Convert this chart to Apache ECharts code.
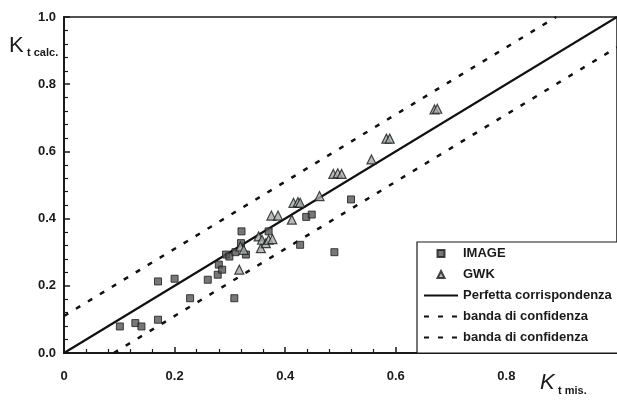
<!DOCTYPE html>
<html>
<head>
<meta charset="utf-8">
<script src="https://cdn.jsdelivr.net/npm/echarts@6/dist/echarts.min.js"></script>
<style>html,body{margin:0;padding:0;background:#fff;}#c{width:617px;height:404px;}</style>
</head>
<body>
<div id="c"></div>
<script>
// IMAGE series (squares): [Kt mis., Kt calc.]
const imageData = [
  [0.101,0.079],[0.129,0.089],[0.140,0.079],[0.170,0.099],[0.170,0.213],[0.200,0.221],
  [0.228,0.163],[0.260,0.218],[0.278,0.233],[0.280,0.263],[0.286,0.248],[0.293,0.293],
  [0.299,0.287],[0.308,0.163],[0.310,0.300],[0.320,0.327],[0.321,0.362],[0.329,0.293],
  [0.370,0.362],[0.427,0.322],[0.438,0.405],[0.448,0.412],[0.489,0.300],[0.519,0.457]
];
// GWK series (triangles)
const gwkData = [
  [0.317,0.248],[0.319,0.317],[0.325,0.307],[0.352,0.347],[0.356,0.312],[0.358,0.337],
  [0.365,0.327],[0.370,0.337],[0.377,0.339],[0.375,0.409],[0.387,0.409],[0.412,0.397],
  [0.415,0.447],[0.423,0.449],[0.427,0.447],[0.462,0.467],[0.487,0.533],[0.495,0.535],
  [0.502,0.533],[0.556,0.576],[0.583,0.638],[0.589,0.638],[0.670,0.725],[0.675,0.727]
];
const perfectLine = [[0,0],[1,1]];
const upperBand = [[0,0.11],[0.89,1.0]];
const lowerBand = [[0.09,0],[1.0,0.91]];
const seriesNames = ['IMAGE','GWK','Perfetta corrispondenza','banda di confidenza','banda di confidenza '];

const chart = echarts.init(document.getElementById('c'));
const font = 'Liberation Sans, Arial, sans-serif';
const squarePath = 'path://M0,0L10,0L10,10L0,10Z';
const trianglePath = 'path://M5,0L10,10L0,10Z';
const axisCommon = {
  min: 0, max: 1, interval: 0.2,
  axisLine: {show: true, lineStyle: {color: '#1a1a1a', width: 2}},
  axisTick: {show: true, inside: true, length: 6, lineStyle: {color: '#1a1a1a', width: 1.5}},
  minorTick: {show: true, splitNumber: 5, length: 4, lineStyle: {color: '#1a1a1a', width: 1.2}},
  splitLine: {show: false},
  axisLabel: {color: '#1a1a1a', fontFamily: font, fontSize: 13, fontWeight: 'bold'}
};
chart.setOption({
  animation: false,
  grid: {left: 64, right: -3, top: 17, bottom: 51, show: true, borderColor: '#1a1a1a', borderWidth: 1.5},
  xAxis: Object.assign({}, axisCommon, {
    type: 'value',
    axisLabel: Object.assign({}, axisCommon.axisLabel, {margin: 17, showMaxLabel: false,
      formatter: v => v === 0 ? '0' : v.toFixed(1)})
  }),
  yAxis: Object.assign({}, axisCommon, {
    type: 'value',
    axisLabel: Object.assign({}, axisCommon.axisLabel, {margin: 8, formatter: v => v.toFixed(1)})
  }),
  legend: {
    orient: 'vertical', left: 417, top: 242,
    padding: [5, 20, 9, 6],
    itemWidth: 34, itemHeight: 7, itemGap: 8,
    symbolKeepAspect: true,
    borderColor: '#1a1a1a', borderWidth: 1.2, backgroundColor: '#fff',
    textStyle: {fontFamily: font, fontSize: 13, fontWeight: 'bold', color: '#1a1a1a'},
    data: [
      {name: seriesNames[0], icon: squarePath},
      {name: seriesNames[1], icon: trianglePath},
      {name: seriesNames[2], itemStyle: {opacity: 0}},
      {name: seriesNames[3], itemStyle: {opacity: 0}},
      {name: seriesNames[4], itemStyle: {opacity: 0}}
    ]
  },
  series: [
    {name: seriesNames[0], type: 'scatter', data: imageData, symbol: 'rect', symbolSize: 7, z: 5,
     itemStyle: {color: '#555', borderColor: '#1a1a1a', borderWidth: 1}},
    {name: seriesNames[1], type: 'scatter', data: gwkData, symbol: 'triangle', symbolSize: 9, z: 6,
     itemStyle: {color: '#a3ada6', borderColor: '#1a1a1a', borderWidth: 1.2}},
    {name: seriesNames[2], type: 'line', data: perfectLine, symbol: 'none', z: 3,
     itemStyle: {color: '#111'}, lineStyle: {color: '#111', width: 2.2}},
    {name: seriesNames[3], type: 'line', data: upperBand, symbol: 'none', z: 3,
     itemStyle: {color: '#111'}, lineStyle: {color: '#111', width: 2.5, type: [5, 9]}},
    {name: seriesNames[4], type: 'line', data: lowerBand, symbol: 'none', z: 3,
     itemStyle: {color: '#111'}, lineStyle: {color: '#111', width: 2.5, type: [5, 9]}}
  ],
  graphic: [
    {type: 'text', left: 9, top: 35, style: {text: 'K', font: '22px ' + font, fill: '#1a1a1a'}},
    {type: 'text', left: 27, top: 47, style: {text: 't calc.', font: 'bold 11px ' + font, fill: '#1a1a1a'}},
    {type: 'text', left: 540, top: 372, style: {text: 'K', font: 'italic 22px ' + font, fill: '#1a1a1a'}},
    {type: 'text', left: 558, top: 385, style: {text: 't mis.', font: 'bold 11px ' + font, fill: '#1a1a1a'}}
  ]
});
</script>
</body>
</html>
